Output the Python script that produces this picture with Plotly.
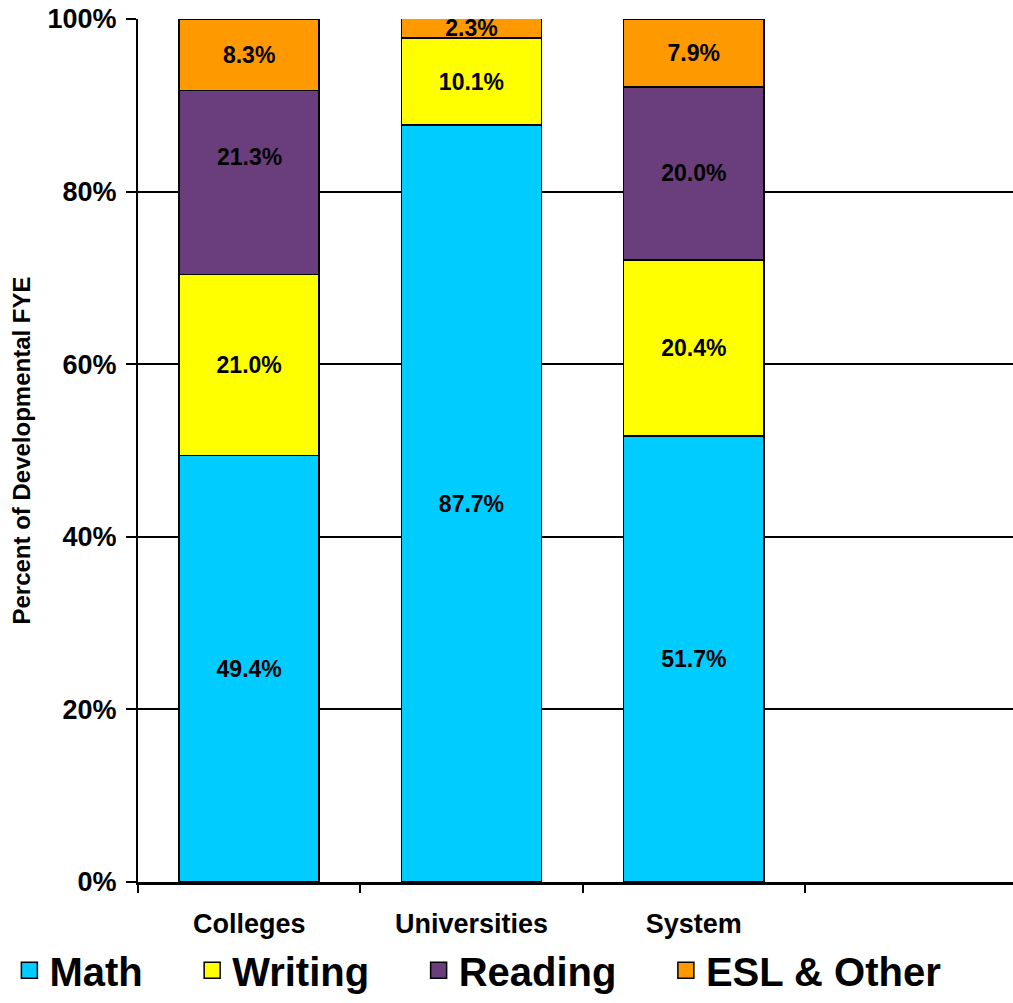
import plotly.graph_objects as go

# Share of developmental FYE by subject, per sector
categories = ["Colleges", "Universities", "System"]
math_pct = [49.4, 87.7, 51.7]
writing_pct = [21.0, 10.1, 20.4]
reading_pct = [21.3, 0.0, 20.0]
esl_pct = [8.3, 2.3, 7.9]

series = [
    ("Math", math_pct, "#00CCFF"),
    ("Writing", writing_pct, "#FFFF00"),
    ("Reading", reading_pct, "#6A3D7C"),
    ("ESL & Other", esl_pct, "#FF9900"),
]

y_ticks = [0, 20, 40, 60, 80, 100]
y_tick_labels = [f"{t}%" for t in y_ticks]

FONT = "Liberation Sans, Arial, sans-serif"
LABEL_FONT = dict(family=FONT, size=23, color="black", weight="bold")


def fmt(v):
    return f"{v:.1f}%" if v > 0 else ""


fig = go.Figure()

for name, vals, color in series:
    labels = [fmt(v) for v in vals]
    if name == "Reading":
        # the Colleges reading label sits higher in its segment; drawn separately below
        labels[0] = ""
    fig.add_trace(go.Bar(
        x=categories,
        y=vals,
        name=name,
        marker=dict(color=color, line=dict(color="black", width=1.5)),
        text=labels,
        textposition="inside",
        insidetextanchor="middle",
        textangle=0,
        constraintext="none",
        textfont=LABEL_FONT,
        showlegend=False,
        hoverinfo="skip",
    ))

# raised label for the Colleges reading segment
reading_mid = math_pct[0] + writing_pct[0] + reading_pct[0] / 2
fig.add_annotation(
    x=categories[0], y=reading_mid, text=fmt(reading_pct[0]),
    showarrow=False, yshift=26, font=LABEL_FONT,
)

# legend entries with outlined square swatches; trailing no-break spaces widen the gaps
for i, (name, vals, color) in enumerate(series):
    pad = "\u00a0" * 4 if i < len(series) - 1 else ""
    fig.add_trace(go.Scatter(
        x=[None], y=[None], mode="markers", name=name + pad,
        marker=dict(symbol="square", size=18, color=color,
                    line=dict(color="black", width=1.5)),
    ))

fig.update_layout(
    width=1013,
    height=1003,
    barmode="stack",
    bargap=0.37,
    plot_bgcolor="white",
    paper_bgcolor="white",
    margin=dict(l=138, r=0, t=19, b=121),
    font=dict(family=FONT, color="black"),
    legend=dict(
        orientation="h",
        traceorder="normal",
        # anchored left of and below the plot area so the row may span the full width
        x=-0.147, xanchor="left",
        y=-0.1398, yanchor="bottom",
        font=dict(family=FONT, size=40, color="black", weight="bold"),
        bgcolor="rgba(0,0,0,0)",
    ),
    xaxis=dict(
        type="category",
        range=[-0.5, 3.436],
        tickson="boundaries",
        ticks="outside",
        ticklen=8,
        tickwidth=1.5,
        tickcolor="black",
        showline=True,
        linecolor="black",
        linewidth=2.5,
        showgrid=False,
        ticklabelstandoff=16,
        tickfont=dict(family=FONT, size=27, color="black", weight="bold"),
    ),
    yaxis=dict(
        range=[0, 100],
        tickvals=y_ticks,
        ticktext=y_tick_labels,
        ticks="outside",
        ticklen=10,
        tickwidth=1.5,
        tickcolor="black",
        showline=True,
        linecolor="black",
        linewidth=2,
        showgrid=True,
        gridcolor="black",
        gridwidth=1.5,
        zeroline=False,
        ticklabelstandoff=4,
        tickfont=dict(family=FONT, size=27, color="black", weight="bold"),
        title=dict(
            text="Percent of Developmental FYE",
            font=dict(family=FONT, size=24, color="black", weight="bold"),
            standoff=10,
        ),
    ),
)

fig.write_html("out.html")
